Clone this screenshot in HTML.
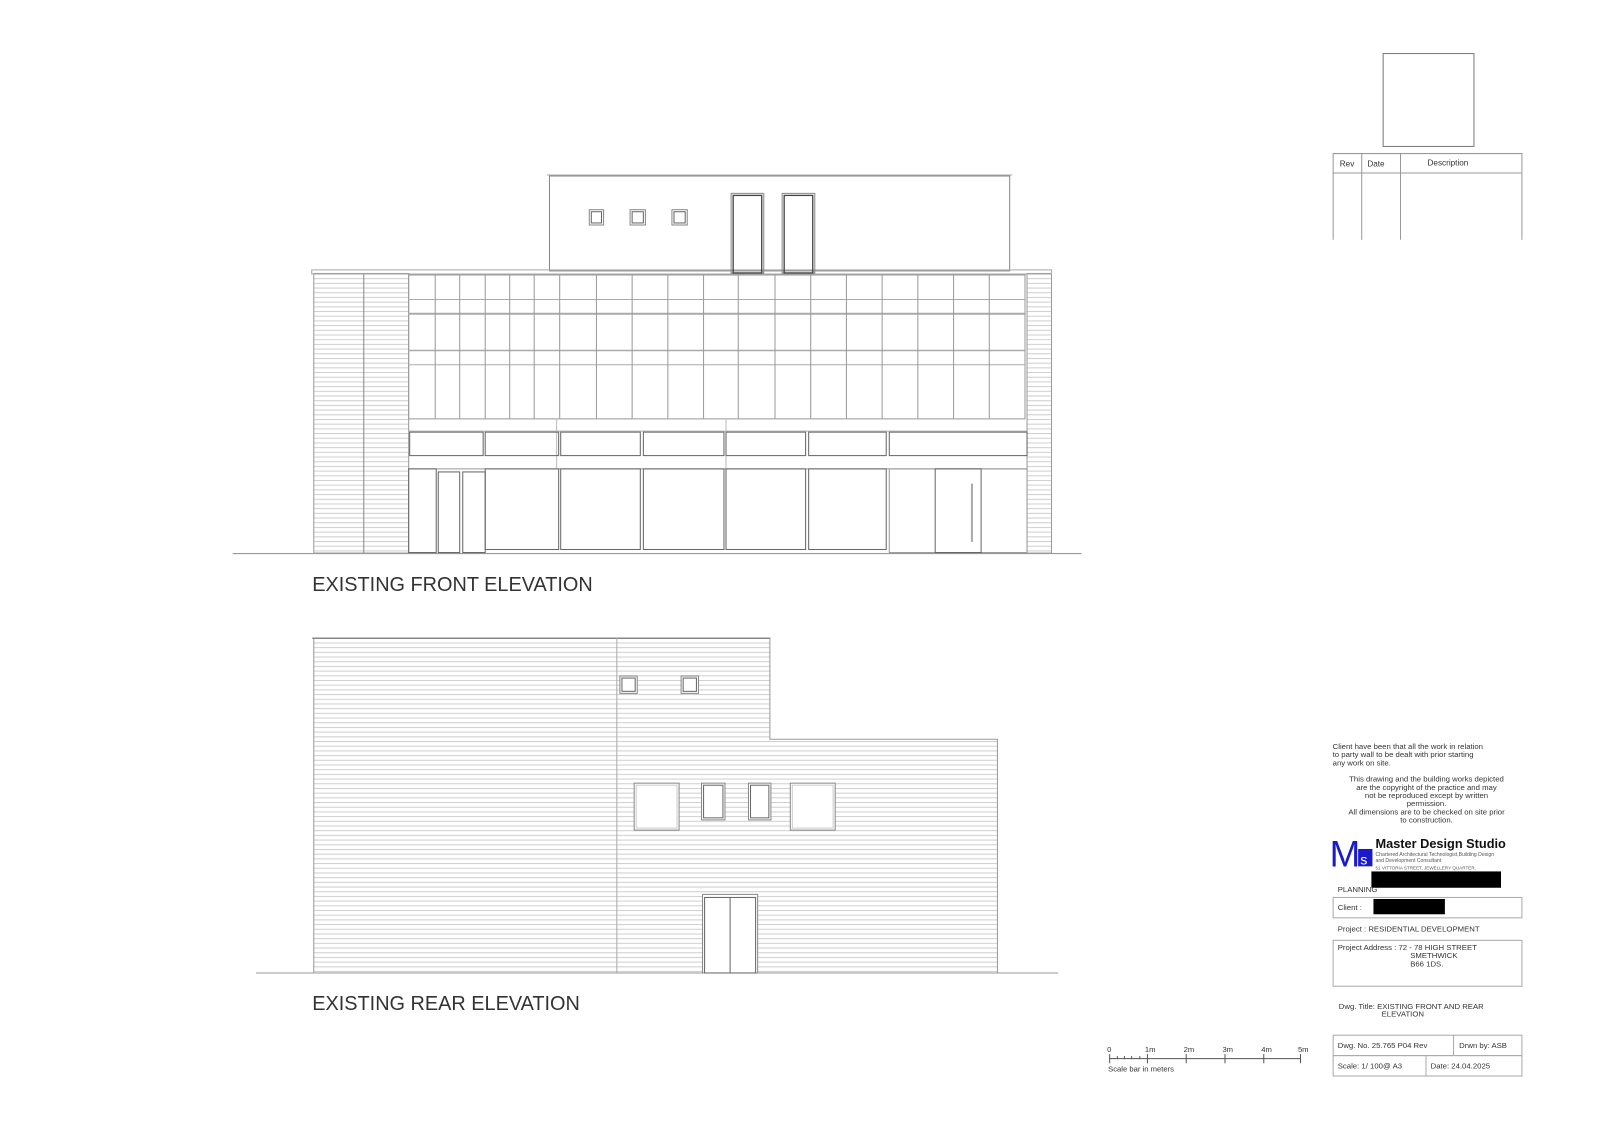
<!DOCTYPE html>
<html><head><meta charset="utf-8"><style>
html,body{margin:0;padding:0;background:#fff}
svg{display:block}
text{font-family:"Liberation Sans",sans-serif;fill:#333}
</style></head><body>
<svg width="1600" height="1130" viewBox="0 0 1600 1130" xmlns="http://www.w3.org/2000/svg">
<defs>
<pattern id="sid" width="10" height="4.6" patternUnits="userSpaceOnUse" y="625">
<line x1="0" y1="0.5" x2="10" y2="0.5" stroke="#cfcfcf" stroke-width="1"/>
</pattern>
<pattern id="sidf" width="10" height="4.6" patternUnits="userSpaceOnUse" y="268">
<line x1="0" y1="0.5" x2="10" y2="0.5" stroke="#cfcfcf" stroke-width="1"/>
</pattern>
</defs>
<g transform="scale(1.0204)">
<g fill="none" stroke="#888" stroke-width="1">
<line x1="228" y1="542.5" x2="1060" y2="542.5" stroke="#999"/>
<rect x="538.5" y="172.5" width="451" height="93"/>
<line x1="536" y1="171.5" x2="992" y2="171.5" stroke="#aaa"/>
<rect x="307.5" y="268" width="93" height="274" fill="url(#sidf)" stroke="#999"/>
<rect x="1006.5" y="268" width="24" height="274" fill="url(#sidf)" stroke="#999"/>
<line x1="356.5" y1="268" x2="356.5" y2="542"/>
<rect x="305.5" y="264.5" width="725" height="4" stroke="#aaa"/>
<rect x="577.5" y="205.5" width="14" height="15"/><rect x="579.5" y="207.5" width="10" height="11" stroke="#666"/>
<rect x="617.5" y="205.5" width="15" height="15"/><rect x="619.5" y="207.5" width="11" height="11" stroke="#666"/>
<rect x="658.5" y="205.5" width="15" height="15"/><rect x="660.5" y="207.5" width="11" height="11" stroke="#666"/>
<rect x="716.5" y="189.5" width="32" height="78"/><rect x="718.5" y="191.5" width="28" height="76" stroke="#444" stroke-width="1.3"/>
<rect x="766.5" y="189.5" width="32" height="78"/><rect x="768.5" y="191.5" width="28" height="76" stroke="#444" stroke-width="1.3"/>
<rect x="400.5" y="269.5" width="604" height="141" stroke="#999"/>
<g stroke="#aaa">
<line x1="400" y1="293.5" x2="1004" y2="293.5"/>
<line x1="400" y1="307.5" x2="1004" y2="307.5" stroke-width="2"/>
<line x1="400" y1="343.5" x2="1004" y2="343.5" stroke-width="1.5"/>
<line x1="400" y1="357.5" x2="1004" y2="357.5"/>
</g>
<g stroke="#999">
<line x1="426.5" y1="269" x2="426.5" y2="410"/><line x1="450.5" y1="269" x2="450.5" y2="410"/>
<line x1="475.5" y1="269" x2="475.5" y2="410"/><line x1="499.5" y1="269" x2="499.5" y2="410"/>
<line x1="523.5" y1="269" x2="523.5" y2="410"/><line x1="548.5" y1="269" x2="548.5" y2="410"/>
<line x1="584.5" y1="269" x2="584.5" y2="410"/><line x1="619.5" y1="269" x2="619.5" y2="410"/>
<line x1="654.5" y1="269" x2="654.5" y2="410"/><line x1="689.5" y1="269" x2="689.5" y2="410"/>
<line x1="723.5" y1="269" x2="723.5" y2="410"/><line x1="759.5" y1="269" x2="759.5" y2="410"/>
<line x1="794.5" y1="269" x2="794.5" y2="410"/><line x1="829.5" y1="269" x2="829.5" y2="410"/>
<line x1="864.5" y1="269" x2="864.5" y2="410"/><line x1="899.5" y1="269" x2="899.5" y2="410"/>
<line x1="934.5" y1="269" x2="934.5" y2="410"/><line x1="969.5" y1="269" x2="969.5" y2="410"/>
</g>
<line x1="400" y1="422.5" x2="1006" y2="422.5" stroke="#aaa"/>
<line x1="545.5" y1="410" x2="545.5" y2="459" stroke="#bbb"/>
<line x1="711.5" y1="410" x2="711.5" y2="459" stroke="#bbb"/>
<g stroke="#666">
<rect x="401.5" y="423.5" width="72" height="23"/><rect x="475.5" y="423.5" width="72" height="23"/>
<rect x="549.5" y="423.5" width="78" height="23"/><rect x="630.5" y="423.5" width="79" height="23"/>
<rect x="711.5" y="423.5" width="78" height="23"/><rect x="792.5" y="423.5" width="76" height="23"/>
<rect x="871.5" y="423.5" width="135" height="23"/>
</g>
<line x1="400" y1="459.5" x2="1006" y2="459.5" stroke="#999"/>
<g stroke="#666">
<rect x="400.5" y="459.5" width="27" height="82"/>
<rect x="429.5" y="462.5" width="21" height="79"/><rect x="453.5" y="462.5" width="22" height="79"/>
<rect x="475.5" y="459.5" width="72" height="79"/><rect x="549.5" y="459.5" width="78" height="79"/>
<rect x="630.5" y="459.5" width="79" height="79"/><rect x="711.5" y="459.5" width="78" height="79"/>
<rect x="792.5" y="459.5" width="76" height="79"/>
<rect x="871.5" y="459.5" width="135" height="82" stroke="#999"/>
<rect x="916.5" y="459.5" width="45" height="82"/>
<line x1="952.5" y1="474" x2="952.5" y2="531" stroke="#aaa" stroke-width="2"/>
</g>
<line x1="251" y1="953.5" x2="1037" y2="953.5" stroke="#999"/>
<path d="M307.5 953 V625.5 H754.5 V724.5 H977.5 V953" fill="url(#sid)" stroke="#999"/>
<line x1="306" y1="625.5" x2="755" y2="625.5" stroke="#888" stroke-width="1.5"/>
<line x1="604.5" y1="625" x2="604.5" y2="953" stroke="#aaa"/>
<g fill="#fff">
<rect x="607.5" y="662.5" width="17" height="17"/><rect x="609.5" y="664.5" width="13" height="13" stroke="#666"/>
<rect x="667.5" y="662.5" width="17" height="17"/><rect x="669.5" y="664.5" width="13" height="13" stroke="#666"/>
<rect x="621.5" y="767.5" width="44" height="46"/><rect x="623.5" y="769.5" width="40" height="42" stroke="#ccc"/>
<rect x="687.5" y="767.5" width="23" height="36"/><rect x="689.5" y="769.5" width="19" height="32" stroke="#666"/>
<rect x="733.5" y="767.5" width="22" height="36"/><rect x="735.5" y="769.5" width="18" height="32" stroke="#666"/>
<rect x="774.5" y="767.5" width="44" height="46"/><rect x="776.5" y="769.5" width="40" height="42" stroke="#ccc"/>
<rect x="688.5" y="876.5" width="54" height="77"/><rect x="690.5" y="879.5" width="50" height="74" stroke="#666"/>
<line x1="715.5" y1="879" x2="715.5" y2="953" stroke="#666"/>
</g>
<rect x="1355.5" y="52.5" width="89" height="91" stroke="#777"/>
<path d="M1306.5 235 V150.5 H1491.5 V235" stroke="#999"/>
<line x1="1306" y1="169.5" x2="1491" y2="169.5" stroke="#999"/>
<line x1="1334.5" y1="150" x2="1334.5" y2="235" stroke="#999"/>
<line x1="1372.5" y1="150" x2="1372.5" y2="235" stroke="#999"/>
<rect x="1306.5" y="879.5" width="185" height="20" stroke="#aaa"/>
<rect x="1306.5" y="921.5" width="185" height="45" stroke="#aaa"/>
<rect x="1306.5" y="1014.5" width="185" height="20" stroke="#aaa"/>
<rect x="1306.5" y="1034.5" width="185" height="20" stroke="#aaa"/>
<line x1="1424.5" y1="1014" x2="1424.5" y2="1034" stroke="#aaa"/>
<line x1="1397.5" y1="1034" x2="1397.5" y2="1054" stroke="#aaa"/>
<line x1="1087" y1="1037.5" x2="1274" y2="1037.5" stroke="#555"/>
<g stroke="#555"><line x1="1087.5" y1="1033" x2="1087.5" y2="1042"/><line x1="1124.5" y1="1033" x2="1124.5" y2="1042"/><line x1="1162.5" y1="1033" x2="1162.5" y2="1042"/><line x1="1200.5" y1="1033" x2="1200.5" y2="1042"/><line x1="1238.5" y1="1033" x2="1238.5" y2="1042"/><line x1="1274.5" y1="1033" x2="1274.5" y2="1042"/>
<line x1="1095" y1="1035" x2="1095" y2="1038"/><line x1="1102" y1="1035" x2="1102" y2="1038"/><line x1="1109" y1="1035" x2="1109" y2="1038"/><line x1="1117" y1="1035" x2="1117" y2="1038"/></g>
</g>
<text x="306" y="579" font-size="19.5">EXISTING FRONT ELEVATION</text>
<text x="306" y="990" font-size="19.5">EXISTING REAR ELEVATION</text>
<text x="1313" y="163" font-size="8">Rev</text>
<text x="1340" y="163" font-size="8">Date</text>
<text x="1399" y="162" font-size="8">Description</text>
<g font-size="7.6">
<text x="1306" y="734">Client have been that all the work in relation</text>
<text x="1306" y="742">to party wall to be dealt with prior starting</text>
<text x="1306" y="750">any work on site.</text>
<text x="1398" y="766" text-anchor="middle">This drawing and the building works depicted</text>
<text x="1398" y="774" text-anchor="middle">are the copyright of the practice and may</text>
<text x="1398" y="782" text-anchor="middle">not be reproduced except by written</text>
<text x="1398" y="790" text-anchor="middle">permission.</text>
<text x="1398" y="798" text-anchor="middle">All dimensions are to be checked on site prior</text>
<text x="1398" y="806" text-anchor="middle">to construction.</text>
</g>
<text x="1303" y="849" font-size="36" style="fill:#1a1acc;letter-spacing:-4px">M</text>
<rect x="1331" y="832" width="14" height="17" fill="#1a1acc"/>
<text x="1333" y="847" font-size="14" style="fill:#fff">s</text>
<text x="1348" y="831" font-size="12.5" font-weight="bold" style="fill:#111">Master Design Studio</text>
<text x="1348" y="839" font-size="5" style="fill:#555">Chartered Architectural Technologist,Building Design</text>
<text x="1348" y="845" font-size="5" style="fill:#555">and Development Consultant</text>
<text x="1348" y="852" font-size="4.5" style="fill:#555">51 VITTORIA STREET, JEWELLERY QUARTER,</text>
<rect x="1344" y="854" width="127" height="16" fill="#000"/>
<text x="1311" y="874" font-size="7.6">PLANNING</text>
<text x="1311" y="892" font-size="7.6">Client :</text>
<rect x="1346" y="881" width="70" height="15" fill="#000"/>
<text x="1311" y="913" font-size="7.6">Project :   RESIDENTIAL DEVELOPMENT</text>
<text x="1311" y="931" font-size="7.6">Project Address :  72 - 78 HIGH STREET</text>
<text x="1382" y="939" font-size="7.6">SMETHWICK</text>
<text x="1382" y="947" font-size="7.6">B66 1DS.</text>
<text x="1312" y="989" font-size="7.6">Dwg. Title: EXISTING FRONT AND REAR</text>
<text x="1354" y="996" font-size="7.6">ELEVATION</text>
<text x="1311" y="1027" font-size="7.6">Dwg. No. 25.765 P04 Rev</text>
<text x="1430" y="1027" font-size="7.6">Drwn by: ASB</text>
<text x="1311" y="1047" font-size="7.6">Scale: 1/ 100@ A3</text>
<text x="1402" y="1047" font-size="7.6">Date:    24.04.2025</text>
<g font-size="7.5">
<text x="1085" y="1031">0</text><text x="1122" y="1031">1m</text><text x="1160" y="1031">2m</text><text x="1198" y="1031">3m</text><text x="1236" y="1031">4m</text><text x="1272" y="1031">5m</text>
<text x="1086" y="1050">Scale bar in meters</text>
</g>
</g>
</svg>
</body></html>
